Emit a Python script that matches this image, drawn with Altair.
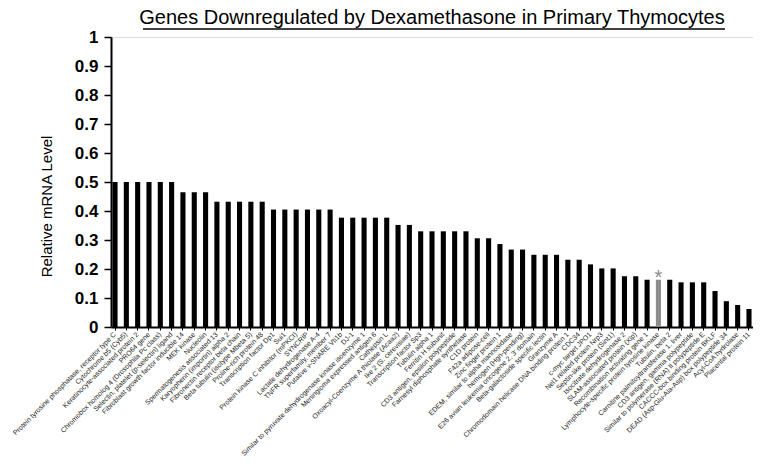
import altair as alt
import pandas as pd

genes = [
    "Protein tyrosine phosphatase, receptor type C",
    "Cytochrome b5 (Cyb5)",
    "Keratinocyte-associated protein 2",
    "PRO64 gene",
    "Chromobox homolog 4 (Drosophila Pc class)",
    "Selectin, platelet (p-selectin) ligand",
    "Fibroblast growth factor inducible 14",
    "MEK kinase",
    "Nucleolin",
    "Spermatogenesis associated 13",
    "Karyopherin (importin) alpha 2",
    "Fibronectin receptor beta chain",
    "Beta tubulin (isotype Mbeta 5)",
    "Proline-rich protein 48",
    "Transcription factor Dp1",
    "Sui1",
    "Protein kinase C inhibitor (mPKCI)",
    "SYNCRIP",
    "Lactate dehydrogenase A-4",
    "TNFR superfamily, member 7",
    "Putative v-SNARE Vti1b",
    "DJ-1",
    "Similar to pyruvate dehydrogenase kinase isoenzyme 1",
    "Meningioma expressed antigen 6",
    "Cathepsin L",
    "Oxoacyl-Coenzyme A thiolase (Acaa2)",
    "Ike 2 (S. cerevisiae)",
    "Transcription factor Sp3",
    "Tubulin alpha 1",
    "Ferritin H subunit",
    "CD3 antigen, epsilon polypeptide",
    "Farnesyl diphosphate synthetase",
    "C1D protein",
    "F42a adipose-cell",
    "Zinc finger protein 1",
    "EDEM, similar to alpha mannosidase",
    "hemogen (Hgn-pending)",
    "E26 avian leukemia oncogene 2, 3' domain",
    "Beta-galactoside specific lectin",
    "Granzyme A",
    "Chromodomain helicase DNA binding protein 1",
    "CDC34",
    "c-myc target JPO1",
    "Nel1 related protein Nrp3",
    "Septin-like protein (Sint1)",
    "Isocitrate dehydrogenase 2",
    "SLAM-associated protein (Xlp)",
    "Recombination activating gene 1",
    "Lymphocyte-specific protein tyrosine kinase",
    "Tubulin, beta 2",
    "Carnitine palmitoyltransferase 1, liver",
    "CD3 antigen, gamma polypeptide",
    "Similar to polymerase (RNA) II polypeptide E",
    "CACCC-box binding protein BKLF",
    "DEAD (Asp-Glu-Ala-Asp) box polypeptide 34",
    "Acyl-CoA hydrolase",
    "Placental protein 11",
]

levels = [
    0.5, 0.5, 0.5, 0.5, 0.5, 0.5,
    0.465, 0.465, 0.465,
    0.432, 0.432, 0.432, 0.432, 0.432,
    0.405, 0.405, 0.405, 0.405, 0.405, 0.405,
    0.377, 0.377, 0.377, 0.377, 0.377,
    0.352, 0.352,
    0.33, 0.33, 0.33, 0.33, 0.33,
    0.306, 0.306,
    0.286,
    0.267, 0.267,
    0.249, 0.249, 0.249,
    0.232, 0.232,
    0.216,
    0.202, 0.202,
    0.175, 0.175,
    0.163, 0.163, 0.163,
    0.154, 0.154, 0.154,
    0.124,
    0.089,
    0.076,
    0.062,
]

highlight_gene = "Lymphocyte-specific protein tyrosine kinase"
y_ticks = [0, 0.1, 0.2, 0.3, 0.4, 0.5, 0.6, 0.7, 0.8, 0.9, 1]
title_text = "Genes Downregulated by Dexamethasone in Primary Thymocytes"

df = pd.DataFrame({"gene": genes, "level": levels})
df["hl"] = df["gene"] == highlight_gene

x_enc = alt.X(
    "gene:N",
    sort=genes,
    title=None,
    scale=alt.Scale(paddingInner=0.55, paddingOuter=0.13),
    axis=alt.Axis(
        labelAngle=-45,
        labelAlign="right",
        labelBaseline="middle",
        labelFontSize=7,
        labelFont="Liberation Sans",
        labelColor="#222222",
        labelLimit=0,
        labelOverlap=False,
        labelPadding=3,
        tickSize=3,
        tickColor="black",
        tickWidth=1,
        domainColor="black",
        domainWidth=2,
    ),
)

y_enc = alt.Y(
    "level:Q",
    title="Relative mRNA Level",
    scale=alt.Scale(domain=[0, 1], nice=False),
    axis=alt.Axis(
        values=y_ticks,
        format="~g",
        labelOverlap=False,
        labelFontSize=17,
        labelFontWeight="bold",
        labelFont="Liberation Sans",
        labelColor="black",
        labelPadding=6,
        tickSize=7,
        tickColor="black",
        tickWidth=1.5,
        domainColor="black",
        domainWidth=2,
        grid=False,
        titleFontSize=15,
        titleFontWeight="normal",
        titleFont="Liberation Sans",
        titleColor="black",
        titlePadding=20,
        titleY=169,
    ),
)

bars = alt.Chart(df).mark_bar().encode(
    x=x_enc,
    y=y_enc,
    color=alt.condition("datum.hl", alt.value("#8c8c8c"), alt.value("black")),
)

star = (
    alt.Chart(df)
    .transform_filter("datum.hl")
    .mark_text(text="*", fontSize=20, color="#8c8c8c", baseline="top", dy=-12, font="Liberation Sans")
    .encode(x=x_enc, y=y_enc)
)

underline = (
    alt.Chart(pd.DataFrame({"k": [0]}))
    .mark_rule(color="black", strokeWidth=1.5)
    .encode(x=alt.value(32), x2=alt.value(614), y=alt.value(-8))
)

chart = (
    alt.layer(bars, star, underline)
    .properties(
        width=642,
        height=290,
        title=alt.TitleParams(
            title_text,
            fontSize=20,
            fontWeight="normal",
            font="Liberation Sans",
            color="black",
            offset=0,
        ),
        autosize=alt.AutoSizeParams(type="none"),
        padding={"left": 103, "top": 29, "right": 0, "bottom": 136},
    )
    .configure_view(stroke=None)
    .configure(background="white")
)

chart.save("out.html", embed_options={"renderer": "svg", "actions": False})
